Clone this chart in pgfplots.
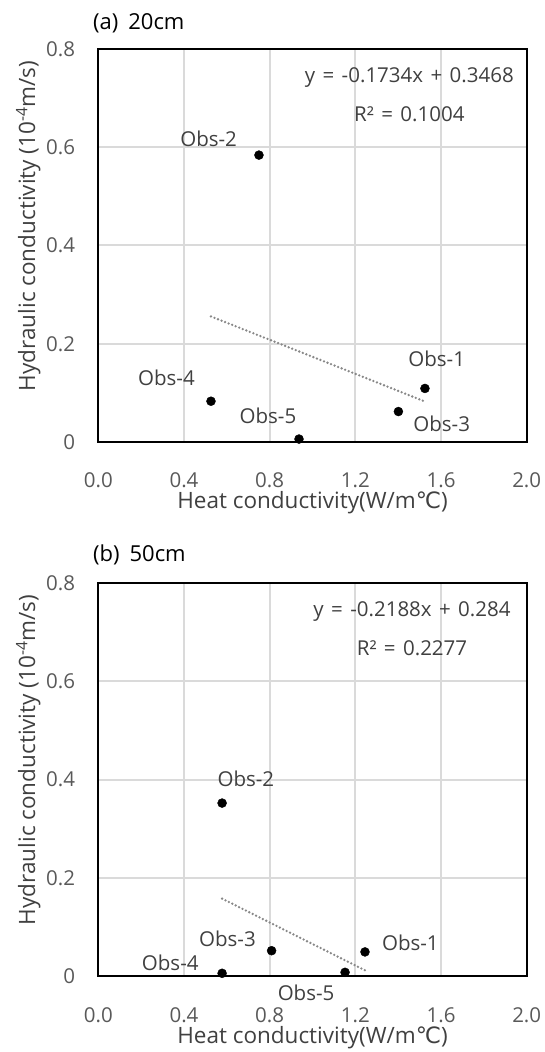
\documentclass[border=0pt]{standalone}
\usepackage{fontspec}
\setmainfont{Open Sans}
\newfontfamily\dejavu{DejaVu Sans}
\usepackage{pgfplots}
\pgfplotsset{compat=1.18}
\definecolor{tickgray}{HTML}{595959}
\definecolor{txt}{HTML}{404040}
\definecolor{gridc}{HTML}{DADADA}
\definecolor{trend}{HTML}{888888}
\newcommand{\fs}{\fontsize{20.5}{24}\selectfont}
\newcommand{\fl}{\fontsize{22.5}{26}\selectfont}
\newcommand{\esp}{\hspace{0.36em}}
\tikzset{lbl/.style={font=\fs, text=txt, inner sep=0pt}}
\pgfplotsset{
  mystyle/.style={
    scale only axis, width=428.4pt, height=393pt,
    xmin=0, xmax=2, ymin=0, ymax=0.8,
    xtick={0,0.4,0.8,1.2,1.6,2.0},
    xticklabels={0.0,0.4,0.8,1.2,1.6,2.0},
    ytick={0,0.2,0.4,0.6,0.8},
    yticklabels={0,0.2,0.4,0.6,0.8},
    major tick length=0pt,
    grid=major, grid style={gridc, line width=2pt},
    axis line style={black, line width=2.2pt},
    tick label style={font=\fs, text=tickgray},
    xticklabel style={anchor=base, inner sep=0pt, yshift=-46pt},
    yticklabel style={anchor=east, inner sep=0pt, xshift=-23pt},
    label style={font=\fl, text=txt},
    xlabel={Heat conductivity(W/m{\dejavu ℃})},
    ylabel={Hydraulic conductivity (10\textsuperscript{-4}m/s)},
    xlabel style={at={(axis description cs:0.5,0)}, anchor=base, yshift=-67pt, inner sep=0pt},
    ylabel style={at={(axis description cs:-0.1634,0.55)}, anchor=center, inner sep=0pt},
    clip=false,
  },
  obs/.style={only marks, mark=*, mark size=4.5pt, black},
  trendl/.style={trend, line width=2.6pt, line cap=round, dash pattern=on 0pt off 3.8pt},
}
\begin{document}
\begin{tikzpicture}
\path[use as bounding box] (0pt,0pt) rectangle (544pt,1052pt);
\node[anchor=west, inner sep=0pt, font=\fontsize{22}{26}\selectfont] at (93pt,1029pt) {(a)\hspace{0.45em}20cm};
\node[anchor=west, inner sep=0pt, font=\fontsize{22}{26}\selectfont] at (93pt,497pt) {(b)\hspace{0.45em}50cm};
\begin{axis}[mystyle, at={(98.3pt,610pt)}, anchor=south west]
  \addplot[trendl] coordinates {(0.526,0.2556) (1.525,0.0824)};
  \addplot[obs] coordinates {(1.525,0.109) (0.750,0.584) (1.401,0.062) (0.526,0.083) (0.937,0.006)};
  \node[lbl] at (axis cs:1.580,0.170) {Obs-1};
  \node[lbl] at (axis cs:0.515,0.618) {Obs-2};
  \node[lbl] at (axis cs:1.603,0.036) {Obs-3};
  \node[lbl] at (axis cs:0.318,0.131) {Obs-4};
  \node[lbl] at (axis cs:0.792,0.053) {Obs-5};
  \node[lbl] at (axis cs:1.452,0.741) {y\esp=\esp-0.1734x\esp+\esp0.3468};
  \node[lbl] at (axis cs:1.452,0.667) {R²\esp=\esp0.1004};
\end{axis}
\begin{axis}[mystyle, at={(98.3pt,76pt)}, anchor=south west]
  \addplot[trendl] coordinates {(0.578,0.1575) (1.245,0.0116)};
  \addplot[obs] coordinates {(1.245,0.049) (0.578,0.352) (0.809,0.0515) (0.578,0.0055) (1.152,0.0075)};
  \node[lbl] at (axis cs:1.457,0.068) {Obs-1};
  \node[lbl] at (axis cs:0.689,0.401) {Obs-2};
  \node[lbl] at (axis cs:0.603,0.075) {Obs-3};
  \node[lbl] at (axis cs:0.336,0.026) {Obs-4};
  \node[lbl] at (axis cs:0.970,-0.035) {Obs-5};
  \node[lbl] at (axis cs:1.4645,0.741) {y\esp=\esp-0.2188x\esp+\esp0.284};
  \node[lbl] at (axis cs:1.4645,0.667) {R²\esp=\esp0.2277};
\end{axis}
\end{tikzpicture}
\end{document}
